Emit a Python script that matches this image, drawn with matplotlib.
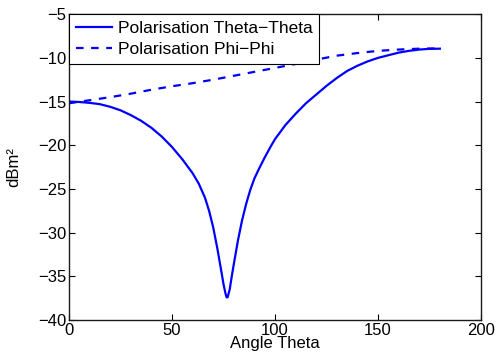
import matplotlib
matplotlib.use("Agg")
import matplotlib.pyplot as plt
import numpy as np

# RCS vs incidence angle, two polarisations
theta_tt = [0, 5, 10, 15, 20, 25, 30, 35, 40, 45, 50, 55, 60, 63, 66, 68, 70, 72, 74, 75, 76, 76.5, 77, 78, 79,
            80, 82, 84, 86, 88, 90, 92, 95, 98, 100, 105, 110, 115, 120, 125, 130, 135, 140, 145, 150, 155,
            160, 165, 170, 175, 180]
rcs_tt = [-15.0, -15.05, -15.15, -15.3, -15.6, -16.0, -16.55, -17.2, -18.0, -19.0, -20.2, -21.6, -23.2, -24.4,
          -26.0, -27.5, -29.4, -31.8, -34.5, -35.9, -37.0, -37.4, -37.4, -36.5, -35.0,
          -33.6, -30.9, -28.6, -26.7, -25.1, -23.8, -22.8, -21.4, -20.1, -19.3, -17.7, -16.4, -15.2, -14.2,
          -13.2, -12.3, -11.5, -10.9, -10.4, -10.0, -9.7, -9.4, -9.2, -9.05, -8.97, -8.95]

theta_pp = [0, 10, 20, 30, 40, 50, 60, 70, 80, 90, 100, 110, 120, 130, 140, 150, 160, 170, 180]
rcs_pp = [-15.2, -14.85, -14.5, -14.1, -13.65, -13.25, -12.9, -12.5, -12.05, -11.6, -11.15, -10.7, -10.2,
          -9.75, -9.45, -9.2, -9.05, -8.95, -8.92]

plt.rcParams['font.family'] = ['Liberation Sans', 'DejaVu Sans']
plt.rcParams['font.size'] = 12

fig = plt.figure(figsize=(4.96, 3.54), dpi=100)
ax = fig.add_axes([0.139, 0.096, 0.831, 0.864])

ax.plot(theta_tt, rcs_tt, color='#0000ff', lw=1.6, label='Polarisation Theta\u2212Theta')
ax.plot(theta_pp, rcs_pp, color='#0000ff', lw=1.6, ls=(0, (3.4, 3.4)), label='Polarisation Phi\u2212Phi')

ax.set_xlim(0, 200)
ax.set_ylim(-40, -5)
ax.set_xticks([0, 50, 100, 150, 200])
ax.set_yticks([-40, -35, -30, -25, -20, -15, -10, -5])
ax.set_yticklabels(['\u221240', '\u221235', '\u221230', '\u221225', '\u221220', '\u221215', '\u221210', '\u22125'])
ax.tick_params(direction='in', top=True, right=True, length=4, width=0.8, pad=2, labelsize=12)
for s in ax.spines.values():
    s.set_linewidth(1.0)
    s.set_color('#1a1a1a')

ax.set_xlabel('Angle Theta', labelpad=-1)
ax.set_ylabel('dBm\u00b2', labelpad=12)

leg = ax.legend(loc='upper left', borderaxespad=0, fancybox=False, edgecolor='black', fontsize=12.5,
                framealpha=1, handlelength=2.1, handletextpad=0.3, borderpad=0.4, labelspacing=0.35)
leg.get_frame().set_linewidth(0.8)

fig.savefig('out.png', dpi=100)
